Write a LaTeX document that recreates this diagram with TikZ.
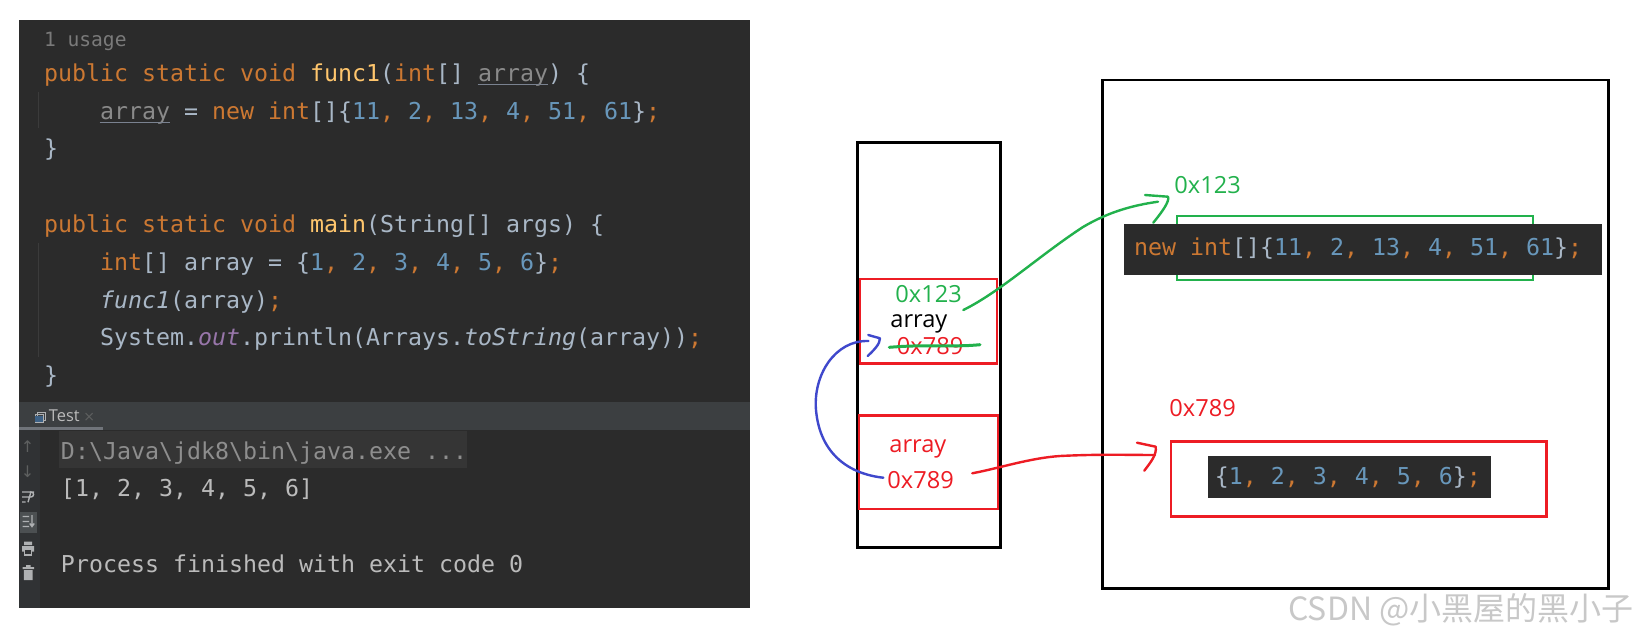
\documentclass[tikz,border=0pt]{standalone}
\usepackage{fontspec}
\setmainfont{Open Sans}
\setmonofont{DejaVu Sans Mono}
\newfontfamily\cjkfont{Noto Sans CJK SC}
\newfontfamily\symfont{DejaVu Sans}
\usetikzlibrary{fit}
\definecolor{bgc}{HTML}{2B2B2B}
\definecolor{hdr}{HTML}{3C3F41}
\definecolor{gut}{HTML}{303234}
\definecolor{kw}{HTML}{CC7832}
\definecolor{fn}{HTML}{FFC66D}
\definecolor{tx}{HTML}{A9B7C6}
\definecolor{nm}{HTML}{6897BB}
\definecolor{prm}{HTML}{8A8A8A}
\definecolor{ul}{HTML}{7A8290}
\definecolor{st}{HTML}{9876AA}
\definecolor{usg}{HTML}{7A7A7A}
\definecolor{cont}{HTML}{BBBBBB}
\definecolor{cmdc}{HTML}{8E8E8E}
\definecolor{cmdbg}{HTML}{353535}
\definecolor{guide}{HTML}{3B3B3B}
\definecolor{icon}{HTML}{AFB1B3}
\definecolor{icondim}{HTML}{5E6060}
\definecolor{iconbg}{HTML}{4C5052}
\definecolor{tabline}{HTML}{70747A}
\definecolor{tabicon}{HTML}{3D6185}
\definecolor{pred}{HTML}{ED1C24}
\definecolor{pgreen}{HTML}{22B14C}
\definecolor{pblue}{HTML}{3F48CC}
\definecolor{wm}{HTML}{C8C8C8}
\newcommand\ckw[1]{\textcolor{kw}{#1}}
\newcommand\cfn[1]{\textcolor{fn}{#1}}
\newcommand\cnm[1]{\textcolor{nm}{#1}}
\newcommand\cpr[1]{\textcolor{prm}{#1}}
\newcommand\cst[1]{\textcolor{st}{#1}}
\newcommand\codefont{\ttfamily\fontsize{11.63}{13}\selectfont\frenchspacing}
\newcommand\lblfont{\rmfamily\fontsize{11.8}{13}\selectfont}
\begin{document}
\begin{tikzpicture}[x=0.5pt,y=-0.5pt,
  code/.style={anchor=base west, inner sep=0pt, font=\codefont, text=tx},
  con/.style={anchor=base west, inner sep=0pt, font=\codefont, text=cont},
  lbl/.style={anchor=base west, inner sep=0pt, font=\lblfont},
  blackbox/.style={draw=black, line width=1.35pt, inner sep=0pt},
  redbox/.style={draw=pred, line width=1.3pt, inner sep=0pt},
  greenbox/.style={draw=pgreen, line width=1.15pt, inner sep=0pt},
  darkbox/.style={fill=bgc, inner sep=0pt},
  pen/.style={line width=1.2pt, line cap=round, line join=round},
  iconline/.style={draw=icon, line width=0.7pt}]
\useasboundingbox (0,0) rectangle (1638,638);
\fill[white] (0,0) rectangle (1638,638);

% ---------------- IDE panel ----------------
\node[darkbox, fit={(19.4,19.8) (750,608.3)}] (ide) {};
\fill[hdr] (19.4,401.7) rectangle (750,429.5);
\fill[gut] (19.4,429.5) rectangle (40,608.3);
\draw[tabline, line width=1.3pt] (19.4,428.3) -- (103.2,428.3);
% tab
\draw[icon, line width=0.5pt] (37,412) rectangle (45.5,420) (35,414.5) rectangle (43.5,422.5);
\fill[tabicon] (35.3,416) rectangle (43.2,422.2);
\node[anchor=base west, inner sep=0pt, font=\rmfamily\fontsize{8.2}{9}\selectfont, text=cont] (tab) at (48.5,421) {Test};
\node[anchor=base west, inner sep=0pt, font=\symfont\fontsize{7}{8}\selectfont, text=icondim] (tabx) at (83,421) {×};
% indent guides
\draw[guide, line width=0.6pt] (38.8,91.7) -- (38.8,128.3);
\draw[guide, line width=0.6pt] (38.8,243.3) -- (38.8,356.7);

% code lines
\node[anchor=base west, inner sep=0pt, font=\ttfamily\fontsize{9.8}{11}\selectfont, text=usg] (l0) at (43.6,46.7) {1 usage};
\node[code] (l1) at (43.6,81.3) {\ckw{public static void }\cfn{func1}(\ckw{int}[] \cpr{array}) \{};
\node[code] (l2) at (99.6,119.1) {\cpr{array} = \ckw{new int}[]\{\cnm{11}\ckw{,} \cnm{2}\ckw{,} \cnm{13}\ckw{,} \cnm{4}\ckw{,} \cnm{51}\ckw{,} \cnm{61}\}\ckw{;}};
\node[code] (l3) at (43.6,156.9) {\}};
\node[code] (l5) at (43.6,232.5) {\ckw{public static void }\cfn{main}(String[] args) \{};
\node[code] (l6) at (99.6,270.3) {\ckw{int}[] array = \{\cnm{1}\ckw{,} \cnm{2}\ckw{,} \cnm{3}\ckw{,} \cnm{4}\ckw{,} \cnm{5}\ckw{,} \cnm{6}\}\ckw{;}};
\node[code] (l7) at (99.6,308.1) {{\itshape func1}(array)\ckw{;}};
\node[code] (l8) at (99.6,345.9) {System.\cst{\itshape out}.println(Arrays.{\itshape toString}(array))\ckw{;}};
\node[code] (l9) at (43.6,383.7) {\}};
% underlines of reassigned parameter
\draw[ul, line width=0.6pt] (477.6,84.6) -- (547.6,84.6);
\draw[ul, line width=0.6pt] (99.6,122.4) -- (169.6,122.4);

% console
\fill[cmdbg] (59.1,430.5) rectangle (467,467.7);
\node[con, text=cmdc] (c1) at (60.6,459.5) {D:\textbackslash Java\textbackslash jdk8\textbackslash bin\textbackslash java.exe ...};
\node[con] (c2) at (60.6,496) {[1, 2, 3, 4, 5, 6]};
\node[con] (c3) at (60.6,572) {Process finished with exit code 0};
% console gutter icons
\node[inner sep=0pt, font=\symfont\fontsize{8}{9}\selectfont, text=icondim] (up) at (27.5,447) {↑};
\node[inner sep=0pt, font=\symfont\fontsize{8}{9}\selectfont, text=icondim] (dn) at (27.5,472) {↓};
\draw[iconline] (22,492) -- (34,492) (22,497) -- (31,497) arc[start angle=90, end angle=-90, radius=2.6] -- (28,502.2) (22,502) -- (25.5,502);
\fill[iconbg] (19.6,511.7) rectangle (36.8,533.3);
\draw[iconline] (22.5,516.5) -- (29,516.5) (22.5,521.5) -- (29,521.5) (22.5,526.5) -- (29,526.5) (32,515) -- (32,526) (29.8,523.5) -- (32,526.5) -- (34.2,523.5);
\fill[icon] (24,541.5) rectangle (32,545) (22,546) rectangle (34,551.5);
\fill[gut] (24.5,549) rectangle (31.5,555);
\draw[iconline] (24.5,549) rectangle (31.5,555);
\fill[icon] (22.5,567) rectangle (34,569) (26,565) rectangle (30.5,567) (23.8,570) rectangle (32.7,580);

% ---------------- Memory diagram ----------------
\node[blackbox, fit={(857.3,142.3) (1000.3,547.4)}] (stack) {};
\node[blackbox, fit={(1102.3,80) (1608.6,588.3)}] (heap) {};
\node[redbox, fit={(860,279) (997,363.7)}] (frameA) {};
\node[redbox, fit={(859,415.7) (998,509)}] (frameB) {};

\node[lbl, text=pgreen] (addrA) at (895,302.7) {0x123};
\node[lbl, text=black] (nameA) at (890,327.3) {array};
\node[lbl, text=pred] (oldA) at (896.5,354.3) {0x789};
\node[lbl, text=pred] (nameB) at (889,452.3) {array};
\node[lbl, text=pred] (valB) at (887,488.3) {0x789};

% heap objects
\node[greenbox, fit={(1177,216) (1532.9,280.3)}] (objA) {};
\node[darkbox, fit={(1124.3,224) (1602,275.3)}] (objAcode) {};
\node[code] (objAtxt) at (1133.6,255.3) {\ckw{new int}[]\{\cnm{11}\ckw{,} \cnm{2}\ckw{,} \cnm{13}\ckw{,} \cnm{4}\ckw{,} \cnm{51}\ckw{,} \cnm{61}\}\ckw{;}};
\node[lbl, text=pgreen] (objAaddr) at (1174,193.3) {0x123};

\node[redbox, fit={(1171,441.7) (1546.4,516.3)}] (objB) {};
\node[darkbox, fit={(1207.5,456) (1491.4,498.3)}] (objBcode) {};
\node[code] (objBtxt) at (1214.5,484.6) {\{\cnm{1}\ckw{,} \cnm{2}\ckw{,} \cnm{3}\ckw{,} \cnm{4}\ckw{,} \cnm{5}\ckw{,} \cnm{6}\}\ckw{;}};
\node[lbl, text=pred] (objBaddr) at (1169,416.7) {0x789};

% hand-drawn connectors
\coordinate (gs) at (963.3,310);
\coordinate (ge) at (1158,201.7);
\draw[pen, pgreen] (gs) .. controls (1000,292) and (1040,255) .. (1083,227) .. controls (1110,211) and (1135,205) .. (ge);
\draw[pen, pgreen] (1145,195) -- (1168,196.7) .. controls (1170,201) and (1162,212) .. (1153.3,222.7);

\coordinate (rs) at (972.3,473.3);
\coordinate (re) at (1155,455);
\draw[pen, pred] (rs) .. controls (1000,468) and (1030,458) .. (1060,456) .. controls (1100,454) and (1130,455) .. (re);
\draw[pen, pred] (1137,442.7) -- (1155.7,446.7) .. controls (1157,455) and (1150,463) .. (1144.3,470.7);

\coordinate (bs) at (883.3,477.7);
\coordinate (be) at (868.3,341);
\draw[pen, pblue] (bs) .. controls (850,474) and (820,455) .. (816,410) .. controls (813,375) and (835,340) .. (be);
\draw[pen, pblue] (868.3,335) -- (880,338.3) .. controls (880,344) and (874,350) .. (867.7,356);

% strike-through of the old value
\coordinate (ss) at (889.3,347.3);
\coordinate (se) at (980,344.7);
\draw[pen, pgreen, line width=1.5pt] (ss) .. controls (930,344) and (950,347.5) .. (se);

% watermark
\node[anchor=east, inner sep=0pt, font=\cjkfont\fontsize{16}{17}\selectfont, text=wm] (mark) at (1634,610) {CSDN @小黑屋的黑小子};
\end{tikzpicture}
\end{document}
